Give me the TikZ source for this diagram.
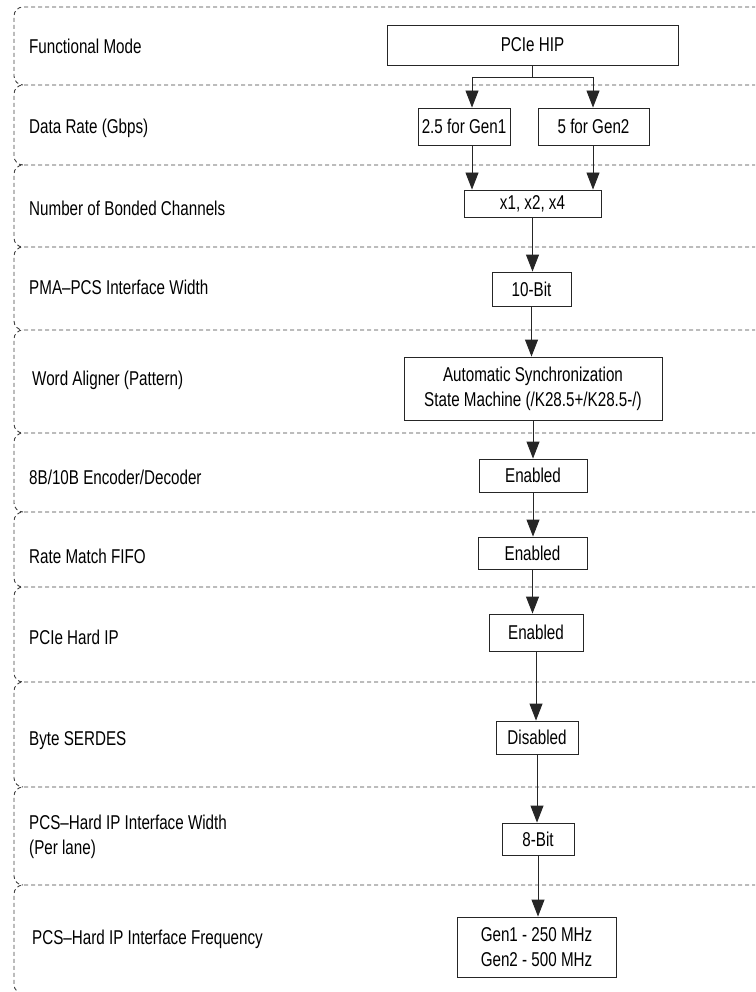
\documentclass[tikz,border=0pt]{standalone}
\usepackage{fontspec}
\setmainfont{Liberation Sans}[FakeStretch=0.76]
\usetikzlibrary{arrows.meta}
\begin{document}
\begin{tikzpicture}[x=1pt,y=-1pt,
  rowline/.style={draw=black!75, line width=0.9pt, dash pattern=on 4pt off 3pt, rounded corners=9pt},
  lbl/.style={anchor=west, inner sep=0pt, text=black, font=\fontsize{20}{25}\selectfont},
  box/.style={draw=black!85, line width=0.9pt, inner sep=0pt, align=center, text=black, font=\fontsize{20}{25}\selectfont},
  conn/.style={draw=black!85, line width=0.9pt},
  arr/.style={conn, -{Triangle[length=17pt,width=13pt]}}]
\useasboundingbox (0,0) rectangle (755,992);
\clip (0,0) rectangle (755,992);
% rows
\foreach \t/\b in {7/85,85/165,165/247,247/330,330/433,433/512,512/587,587/682,682/787,787/885}{
  \draw[rowline] (770,\t) -- (14,\t) -- (14,\b) -- (23,\b);
}
\draw[rowline] (770,885) -- (14,885) -- (14,993.5) -- (770,993.5);
% labels
\node[lbl] (l1) at (29,46) {Functional Mode};
\node[lbl] (l2) at (29,128) {Data Rate (Gbps)};
\node[lbl] (l3) at (29,208) {Number of Bonded Channels};
\node[lbl] (l4) at (29,287) {PMA–PCS Interface Width};
\node[lbl] (l5) at (32,380) {Word Aligner (Pattern)};
\node[lbl] (l6) at (29,477) {8B/10B Encoder/Decoder};
\node[lbl] (l7) at (29,556) {Rate Match FIFO};
\node[lbl] (l8) at (29,637) {PCIe Hard IP};
\node[lbl] (l9) at (29,741) {Byte SERDES};
\node[lbl, align=left] (l10) at (29,837) {PCS–Hard IP Interface Width\\(Per lane)};
\node[lbl] (l11) at (32,939) {PCS–Hard IP Interface Frequency};
% boxes
\node[box, minimum width=291pt, minimum height=40pt] (hip) at (532.5,45) {PCIe HIP};
\node[box, minimum width=92pt, minimum height=37pt] (g1) at (464,126.5) {2.5 for Gen1};
\node[box, minimum width=111pt, minimum height=37pt] (g2) at (593.5,126.5) {5 for Gen2};
\node[box, minimum width=137pt, minimum height=27pt] (x124) at (532.5,203.5) {x1, x2, x4};
\node[box, minimum width=79pt, minimum height=34pt] (b10) at (531.5,289) {10-Bit};
\node[box, minimum width=258pt, minimum height=63pt] (asm) at (533,388.5) {Automatic Synchronization\\State Machine (/K28.5+/K28.5-/)};
\node[box, minimum width=108pt, minimum height=33pt] (en1) at (533,475.5) {Enabled};
\node[box, minimum width=109pt, minimum height=32pt] (en2) at (532.5,553) {Enabled};
\node[box, minimum width=94pt, minimum height=37pt] (en3) at (536,632.5) {Enabled};
\node[box, minimum width=82pt, minimum height=33pt] (dis) at (537,737.5) {Disabled};
\node[box, minimum width=72pt, minimum height=32pt] (b8) at (538,839) {8-Bit};
\node[box, minimum width=159pt, minimum height=60pt] (gen) at (536.5,947) {Gen1 - 250 MHz\\Gen2 - 500 MHz};
% connectors
\coordinate (jL) at (472,77);
\coordinate (jR) at (593,77);
\draw[conn] (hip.south) -- (hip.south |- jL);
\draw[conn] (jL) -- (jR);
\draw[arr] (jL) -- (jL |- g1.north);
\draw[arr] (jR) -- (jR |- g2.north);
\draw[arr] (jL |- g1.south) -- (jL |- x124.north);
\draw[arr] (jR |- g2.south) -- (jR |- x124.north);
\draw[arr] (x124.south) -- (x124.south |- b10.north);
\draw[arr] (b10.south) -- (b10.south |- asm.north);
\draw[arr] (asm.south) -- (asm.south |- en1.north);
\draw[arr] (en1.south) -- (en1.south |- en2.north);
\draw[arr] (en2.south) -- (en2.south |- en3.north);
\draw[arr] (en3.south) -- (en3.south |- dis.north);
\draw[arr] (dis.south) -- (dis.south |- b8.north);
\draw[arr] (b8.south) -- (b8.south |- gen.north);
\end{tikzpicture}
\end{document}
